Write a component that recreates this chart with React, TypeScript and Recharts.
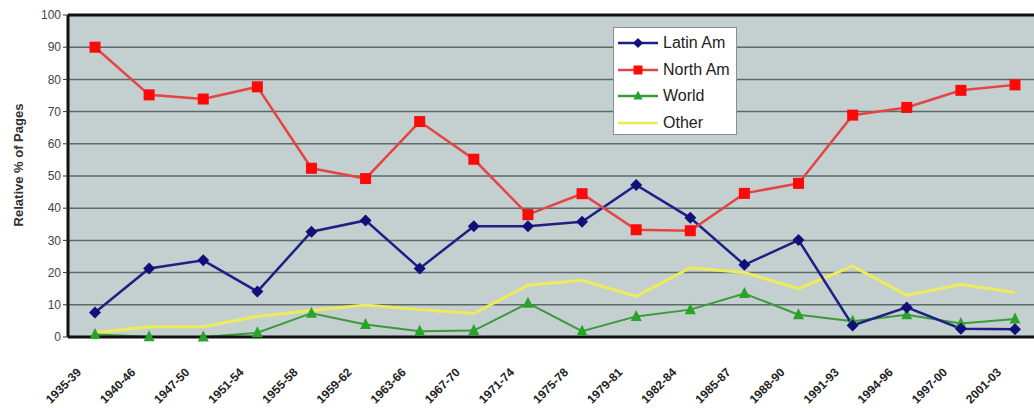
import React from 'react';
import { LineChart, Line, XAxis, YAxis, CartesianGrid, Legend, ReferenceLine } from 'recharts';

// Publication periods on the category axis
const periods = [
  '1935-39', '1940-46', '1947-50', '1951-54', '1955-58', '1959-62', '1963-66', '1967-70', '1971-74',
  '1975-78', '1979-81', '1982-84', '1985-87', '1988-90', '1991-93', '1994-96', '1997-00', '2001-03',
];

// Relative share of pages (%) per region
const latinAm = [7.6, 21.3, 23.8, 14.1, 32.7, 36.2, 21.3, 34.4, 34.4, 35.8, 47.2, 37.0, 22.4, 30.1, 3.6, 9.2, 2.6, 2.4];
const northAm = [90.0, 75.2, 73.9, 77.7, 52.4, 49.2, 66.9, 55.2, 38.0, 44.5, 33.3, 33.0, 44.6, 47.7, 68.9, 71.3, 76.6, 78.3];
const world = [0.8, 0.1, 0.0, 1.3, 7.4, 3.9, 1.8, 2.0, 10.5, 1.8, 6.4, 8.5, 13.5, 6.9, 4.9, 6.9, 4.2, 5.6];
const other = [1.3, 3.2, 3.2, 6.4, 8.2, 9.9, 8.5, 7.3, 16.1, 17.6, 12.6, 21.5, 20.0, 15.0, 22.0, 13.0, 16.3, 13.8];

const yTicks = [0, 10, 20, 30, 40, 50, 60, 70, 80, 90, 100];

const COLORS = {
  latinLine: '#1f1f86',
  latinMark: '#10107a',
  northLine: '#e44444',
  northMark: '#ff0808',
  worldLine: '#3c9a3c',
  worldMark: '#28a528',
  other: '#ecec5a',
};

const FONT = 'Arial, "Liberation Sans", Helvetica, sans-serif';

const Diamond = ({ cx, cy, fill, s = 6 }: any) => (
  <polygon points={`${cx},${cy - s} ${cx + s},${cy} ${cx},${cy + s} ${cx - s},${cy}`} fill={fill} />
);
const Square = ({ cx, cy, fill, s = 5.5 }: any) => (
  <rect x={cx - s} y={cy - s} width={s * 2} height={s * 2} fill={fill} />
);
const Triangle = ({ cx, cy, fill, s = 5.5 }: any) => (
  <polygon points={`${cx},${cy - s - 1} ${cx + s},${cy + s - 1} ${cx - s},${cy + s - 1}`} fill={fill} />
);

const latinDot = (p: any) => <Diamond key={`l${p.index}`} cx={p.cx} cy={p.cy} fill={COLORS.latinMark} />;
const northDot = (p: any) => <Square key={`n${p.index}`} cx={p.cx} cy={p.cy} fill={COLORS.northMark} />;
const worldDot = (p: any) => <Triangle key={`w${p.index}`} cx={p.cx} cy={p.cy} fill={COLORS.worldMark} />;

const XTick = (props: any) => {
  const { x, y, payload } = props;
  return (
    <g transform={`translate(${x - 13},${y + 28})`}>
      <text
        textAnchor="end"
        transform="rotate(-45)"
        fontFamily={FONT}
        fontWeight="bold"
        fontSize={12}
        fill="#222"
      >
        {payload.value}
      </text>
    </g>
  );
};

const legendItems = [
  { name: 'Latin Am', line: COLORS.latinLine, mark: 'diamond', markFill: COLORS.latinMark },
  { name: 'North Am', line: COLORS.northLine, mark: 'square', markFill: COLORS.northMark },
  { name: 'World', line: COLORS.worldLine, mark: 'triangle', markFill: COLORS.worldMark },
  { name: 'Other', line: COLORS.other, mark: 'none', markFill: COLORS.other },
];

const LegendBox = () => (
  <div
    style={{
      width: 124,
      height: 108,
      boxSizing: 'border-box',
      background: '#ffffff',
      border: '1px solid #8a9090',
      paddingTop: 2,
      fontFamily: FONT,
    }}
  >
    {legendItems.map((it) => (
      <div key={it.name} style={{ display: 'flex', alignItems: 'center', height: 26.5 }}>
        <svg width={46} height={14} style={{ marginLeft: 3 }}>
          <line x1={1} y1={7} x2={41} y2={7} stroke={it.line} strokeWidth={2.5} />
          {it.mark === 'diamond' && <Diamond cx={21} cy={7} fill={it.markFill} s={5} />}
          {it.mark === 'square' && <Square cx={21} cy={7} fill={it.markFill} s={4.5} />}
          {it.mark === 'triangle' && <Triangle cx={21} cy={7} fill={it.markFill} s={4.5} />}
        </svg>
        <span style={{ fontSize: 16, color: '#222', whiteSpace: 'nowrap' }}>{it.name}</span>
      </div>
    ))}
  </div>
);

export default function App() {
  const data = periods.map((p, i) => ({
    period: p,
    latinAm: latinAm[i],
    northAm: northAm[i],
    world: world[i],
    other: other[i],
  }));

  return (
    <div
      style={{
        position: 'absolute',
        left: 0,
        top: 0,
        width: 1034,
        height: 408,
        overflow: 'hidden',
        background: '#ffffff',
      }}
    >
      <LineChart width={1050} height={408} data={data} margin={{ top: 15, right: 8, bottom: 0, left: 0 }}>
        <CartesianGrid vertical={false} stroke="#5d6a6a" strokeWidth={1.5} fill="#c4cfcf" />
        <XAxis
          dataKey="period"
          height={71}
          interval={0}
          padding={{ left: 27, right: 27 }}
          tick={<XTick />}
          tickLine={false}
          axisLine={{ stroke: '#111', strokeWidth: 3 }}
        />
        <YAxis
          width={68}
          domain={[0, 100]}
          ticks={yTicks}
          interval={0}
          tickSize={5}
          tickLine={{ stroke: '#333', strokeWidth: 1 }}
          axisLine={{ stroke: '#111', strokeWidth: 3 }}
          tick={{ fontSize: 12, fill: '#444', fontFamily: FONT }}
          label={{
            content: () => (
              <text
                x={18}
                y={165}
                transform="rotate(-90 18 165)"
                textAnchor="middle"
                dominantBaseline="central"
                fontFamily={FONT}
                fontWeight="bold"
                fontSize={13}
                fill="#333"
              >
                Relative % of Pages
              </text>
            ),
          }}
        />
        <ReferenceLine y={100} stroke="#111" strokeWidth={3} />
        <Legend
          layout="vertical"
          align="center"
          verticalAlign="middle"
          content={<LegendBox />}
          wrapperStyle={{ left: 613, top: 27, width: 124, height: 108 }}
        />
        <Line
          dataKey="other"
          name="Other"
          stroke={COLORS.other}
          strokeWidth={3}
          dot={false}
          activeDot={false}
          isAnimationActive={false}
        />
        <Line
          dataKey="world"
          name="World"
          stroke={COLORS.worldLine}
          strokeWidth={2}
          dot={worldDot}
          activeDot={false}
          isAnimationActive={false}
        />
        <Line
          dataKey="latinAm"
          name="Latin Am"
          stroke={COLORS.latinLine}
          strokeWidth={2.5}
          dot={latinDot}
          activeDot={false}
          isAnimationActive={false}
        />
        <Line
          dataKey="northAm"
          name="North Am"
          stroke={COLORS.northLine}
          strokeWidth={2.5}
          dot={northDot}
          activeDot={false}
          isAnimationActive={false}
        />
      </LineChart>
    </div>
  );
}
